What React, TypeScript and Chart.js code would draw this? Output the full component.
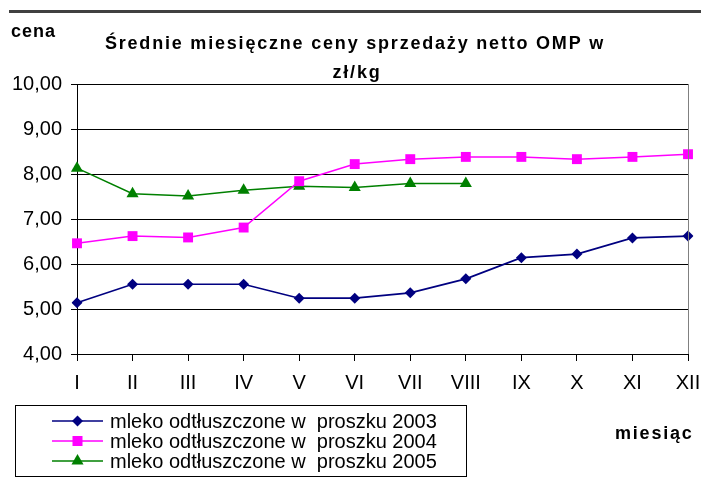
import React, { useEffect, useRef } from 'react';
import { Chart, registerables } from 'chart.js';

Chart.register(...registerables);

const months = ['I', 'II', 'III', 'IV', 'V', 'VI', 'VII', 'VIII', 'IX', 'X', 'XI', 'XII'];
const prices2003 = [5.14, 5.55, 5.55, 5.55, 5.24, 5.24, 5.36, 5.67, 6.14, 6.22, 6.58, 6.62];
const prices2004 = [6.46, 6.62, 6.59, 6.81, 7.84, 8.22, 8.33, 8.38, 8.38, 8.33, 8.38, 8.44];
const prices2005 = [8.13, 7.56, 7.51, 7.64, 7.73, 7.70, 7.79, 7.79, null, null, null, null];
const seriesLabels = [
  'mleko odtłuszczone w  proszku 2003',
  'mleko odtłuszczone w  proszku 2004',
  'mleko odtłuszczone w  proszku 2005',
];
const seriesColors = ['#000080', '#FF00FF', '#008000'];
const seriesMarkers = ['rectRot', 'rect', 'triangle'];
const yMin = 4;
const yMax = 10;
const yStep = 1;
const titleLines = ['Średnie miesięczne ceny sprzedaży netto OMP w', 'zł/kg'];
const yAxisTitle = 'cena';
const xAxisTitle = 'miesiąc';

const FONT = '"Liberation Sans", Arial, sans-serif';

function drawMarker(ctx: CanvasRenderingContext2D, type: string, x: number, y: number, color: string) {
  ctx.save();
  ctx.fillStyle = color;
  ctx.beginPath();
  if (type === 'rectRot') {
    const r = 5.5;
    ctx.moveTo(x - r, y);
    ctx.lineTo(x, y - r);
    ctx.lineTo(x + r, y);
    ctx.lineTo(x, y + r);
  } else if (type === 'rect') {
    const s = 5;
    ctx.rect(x - s, y - s, 2 * s, 2 * s);
  } else {
    const r = 7;
    const h = (r * Math.sqrt(3)) / 2;
    ctx.moveTo(x, y - r);
    ctx.lineTo(x + h, y + r / 2);
    ctx.lineTo(x - h, y + r / 2);
  }
  ctx.closePath();
  ctx.fill();
  ctx.restore();
}

const decorPlugin = {
  id: 'decor',
  afterDraw(chart: any) {
    const ctx: CanvasRenderingContext2D = chart.ctx;
    const area = chart.chartArea;
    ctx.save();
    // page rule at top
    ctx.fillStyle = '#404040';
    ctx.fillRect(9, 10, 692, 3);

    // right plot border
    ctx.strokeStyle = '#808080';
    ctx.lineWidth = 1;
    ctx.beginPath();
    ctx.moveTo(Math.round(area.right) + 0.5, area.top);
    ctx.lineTo(Math.round(area.right) + 0.5, area.bottom);
    ctx.stroke();

    // texts
    ctx.fillStyle = '#000';
    ctx.textBaseline = 'alphabetic';
    ctx.font = `bold 18px ${FONT}`;
    (ctx as any).letterSpacing = '1px';
    ctx.textAlign = 'left';
    ctx.fillText(yAxisTitle, 11, 37);

    (ctx as any).letterSpacing = '1.8px';
    ctx.textAlign = 'center';
    ctx.fillText(titleLines[0], 355, 49);
    ctx.fillText(titleLines[1], 357, 78);

    ctx.textAlign = 'left';
    (ctx as any).letterSpacing = '1.8px';
    ctx.fillText(xAxisTitle, 615, 439);
    (ctx as any).letterSpacing = '0px';

    // legend
    ctx.strokeStyle = '#000';
    ctx.lineWidth = 1;
    ctx.strokeRect(15.5, 405.5, 451, 71);
    const rows = [421, 441, 461];
    ctx.font = `20px ${FONT}`;
    ctx.textBaseline = 'middle';
    chart.data.datasets.forEach((ds: any, i: number) => {
      const y = rows[i];
      ctx.strokeStyle = ds.borderColor;
      ctx.lineWidth = 1.5;
      ctx.beginPath();
      ctx.moveTo(52, y);
      ctx.lineTo(103, y);
      ctx.stroke();
      drawMarker(ctx, ds.pointStyle, 77.5, y, ds.borderColor);
      ctx.fillStyle = '#000';
      ctx.fillText(ds.label, 110, y + 1);
    });
    ctx.restore();
  },
};

export default function App() {
  const canvasRef = useRef<HTMLCanvasElement | null>(null);

  useEffect(() => {
    if (!canvasRef.current) return;
    const series = [prices2003, prices2004, prices2005];
    const chart = new Chart(canvasRef.current, {
      type: 'line',
      data: {
        labels: months,
        datasets: series.map((data, i) => ({
          label: seriesLabels[i],
          data,
          borderColor: seriesColors[i],
          backgroundColor: seriesColors[i],
          pointBackgroundColor: seriesColors[i],
          pointBorderColor: seriesColors[i],
          pointBorderWidth: 0,
          pointStyle: seriesMarkers[i],
          pointRadius: i === 0 ? 5.5 : 7,
          borderWidth: i === 0 ? 1.7 : 1.5,
          tension: 0,
          spanGaps: false,
          fill: false,
        })),
      },
      options: {
        animation: false,
        responsive: false,
        devicePixelRatio: 1,
        layout: { padding: { left: 0, right: 0, top: 84, bottom: 100 } },
        plugins: {
          legend: { display: false },
          title: { display: false },
          tooltip: { enabled: false },
        },
        scales: {
          x: {
            type: 'category',
            offset: false,
            grid: {
              drawOnChartArea: false,
              drawTicks: true,
              tickLength: 7,
              color: '#000',
            },
            border: { display: true, color: '#000', width: 1 },
            ticks: {
              color: '#000',
              font: { family: FONT, size: 20 },
              padding: 10,
              maxRotation: 0,
              autoSkip: false,
            },
            afterFit: (s: any) => {
              s.height = 40;
              s.paddingRight = 13;
              s.paddingLeft = 0;
            },
          },
          y: {
            min: yMin,
            max: yMax,
            grid: {
              color: '#000',
              lineWidth: 1,
              drawTicks: true,
              tickLength: 6,
            },
            border: { display: true, color: '#000', width: 1 },
            ticks: {
              stepSize: yStep,
              color: '#000',
              font: { family: FONT, size: 20 },
              padding: 9,
              callback: (v: any) => Number(v).toFixed(2).replace('.', ','),
            },
            afterFit: (s: any) => {
              s.width = 77;
            },
          },
        },
      },
      plugins: [decorPlugin],
    });
    return () => chart.destroy();
  }, []);

  return (
    <div style={{ position: 'fixed', left: 0, top: 0, width: 701, height: 494, background: '#fff' }}>
      <canvas ref={canvasRef} width={701} height={494} style={{ width: 701, height: 494, display: 'block' }} />
    </div>
  );
}
